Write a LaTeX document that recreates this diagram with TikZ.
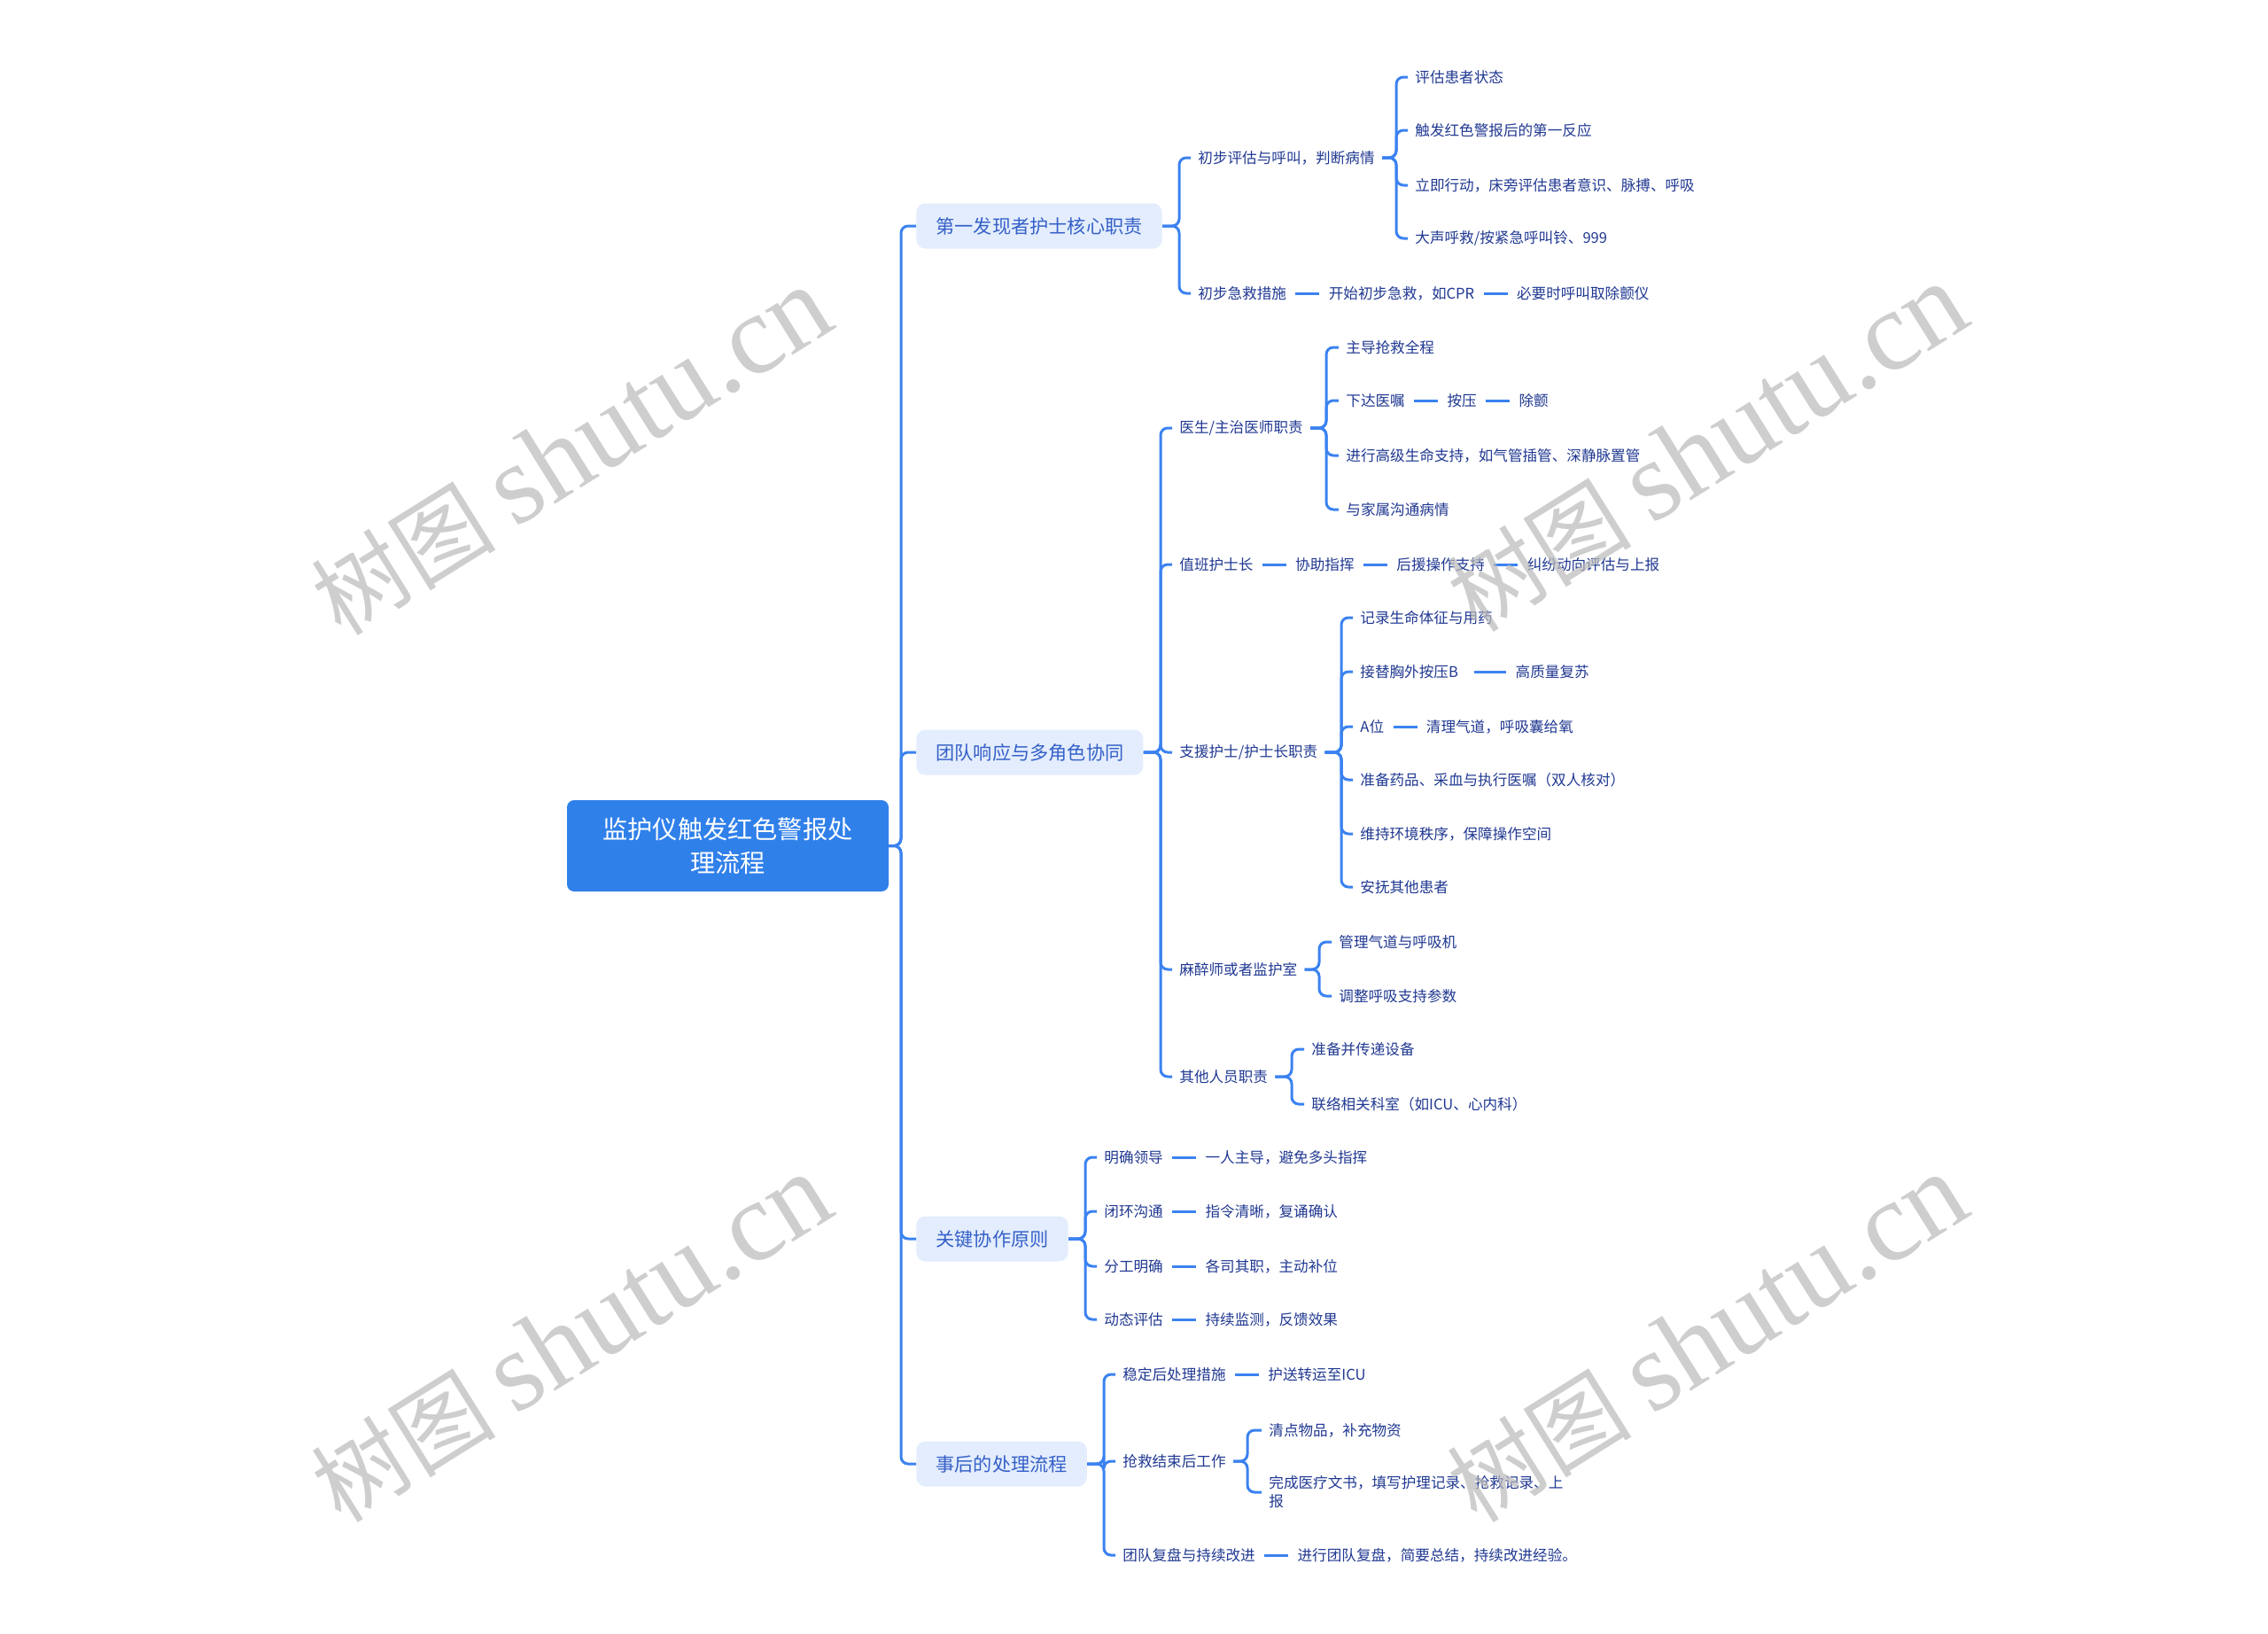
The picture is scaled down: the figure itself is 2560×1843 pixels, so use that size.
\documentclass[tikz,border=0pt]{standalone}
\usepackage{fontspec}
\setmainfont{Noto Sans CJK SC}
\newfontfamily\wmserif{Liberation Serif}
\usetikzlibrary{calc}
\definecolor{lineblue}{RGB}{59,130,240}
\definecolor{rootblue}{RGB}{48,128,234}
\definecolor{lvfill}{RGB}{227,237,253}
\definecolor{lvtext}{RGB}{53,96,200}
\definecolor{leaftext}{RGB}{32,56,145}
\definecolor{wmgray}{RGB}{185,185,185}
\begin{document}
\begin{tikzpicture}[x=0.5pt,y=-0.5pt,
  rootbox/.style={fill=rootblue, rounded corners=4pt, text=white, minimum width=181.5pt, minimum height=51.5pt, align=center, font=\fontsize{14.1}{18.8}\selectfont, inner sep=0pt},
  lvbox/.style={fill=lvfill, rounded corners=5pt, text=lvtext, minimum height=25.5pt, inner xsep=11pt, inner ysep=0pt, font=\fontsize{10.6}{12}\selectfont, anchor=west},
  leaf/.style={text=leaftext, inner xsep=4pt, inner ysep=2pt, font=\fontsize{8.3}{10.6}\selectfont, anchor=west},
  conn/.style={draw=lineblue, line width=1.5pt, rounded corners=4pt},
  dashc/.style={draw=lineblue, line width=1.5pt, shorten <=1pt, shorten >=1pt},
  wm/.style={text=wmgray, opacity=0.7, rotate=32, font=\fontsize{52}{52}\selectfont, inner sep=0pt}
]
\useasboundingbox (0,0) rectangle (2560,1843);

% root
\node[rootbox] (root) at (821.5,954.5) {监护仪触发红色警报处\\理流程};

% level 1
\node[lvbox] (L1a) at (1034,255) {第一发现者护士核心职责};
\node[lvbox] (L1b) at (1034,849) {团队响应与多角色协同};
\node[lvbox] (L1c) at (1034,1398) {关键协作原则};
\node[lvbox] (L1d) at (1034,1652) {事后的处理流程};

% bracket coordinates
\coordinate (sp) at (1017,0);
\coordinate (bA) at (1331,0);
\coordinate (bA1) at (1576,0);
\coordinate (bB) at (1310,0);
\coordinate (bB1) at (1497,0);
\coordinate (bB3) at (1514,0);
\coordinate (bB4) at (1489,0);
\coordinate (bB5) at (1458,0);
\coordinate (bC) at (1225,0);
\coordinate (bD) at (1246,0);
\coordinate (bD2) at (1408,0);

% ---- branch A
\node[leaf] (a1) at (1344,178) {初步评估与呼叫，判断病情};
\node[leaf] (a2) at (1344,331) {初步急救措施};
\node[leaf] (a2b) at ([xshift=15.5pt]a2.east) {开始初步急救，如CPR};
\node[leaf] (a2c) at ([xshift=15.5pt]a2b.east) {必要时呼叫取除颤仪};
\node[leaf] (a1a) at (1589,87) {评估患者状态};
\node[leaf] (a1b) at (1589,147) {触发红色警报后的第一反应};
\node[leaf] (a1c) at (1589,209) {立即行动，床旁评估患者意识、脉搏、呼吸};
\node[leaf] (a1d) at (1589,269) {大声呼救/按紧急呼叫铃、999};

% ---- branch B
\node[leaf] (b1) at (1323,483) {医生/主治医师职责};
\node[leaf] (b2) at (1323,637) {值班护士长};
\node[leaf] (b2b) at ([xshift=15.5pt]b2.east) {协助指挥};
\node[leaf] (b2c) at ([xshift=15.5pt]b2b.east) {后援操作支持};
\node[leaf] (b2d) at ([xshift=15.5pt]b2c.east) {纠纷动向评估与上报};
\node[leaf] (b3) at (1323,849) {支援护士/护士长职责};
\node[leaf] (b4) at (1323,1094) {麻醉师或者监护室};
\node[leaf] (b5) at (1323,1215) {其他人员职责};

\node[leaf] (b1a) at (1511,392) {主导抢救全程};
\node[leaf] (b1b) at (1511,452) {下达医嘱};
\node[leaf] (b1b2) at ([xshift=15.5pt]b1b.east) {按压};
\node[leaf] (b1b3) at ([xshift=15.5pt]b1b2.east) {除颤};
\node[leaf] (b1c) at (1511,514) {进行高级生命支持，如气管插管、深静脉置管};
\node[leaf] (b1d) at (1511,575) {与家属沟通病情};

\node[leaf] (b3a) at (1527,697) {记录生命体征与用药};
\node[leaf] (b3b) at (1527,758) {接替胸外按压B};
\node[leaf] (b3b2) at ([xshift=24pt]b3b.east) {高质量复苏};
\node[leaf] (b3c) at (1527,820) {A位};
\node[leaf] (b3c2) at ([xshift=15.5pt]b3c.east) {清理气道，呼吸囊给氧};
\node[leaf] (b3d) at (1527,880) {准备药品、采血与执行医嘱（双人核对）};
\node[leaf] (b3e) at (1527,941) {维持环境秩序，保障操作空间};
\node[leaf] (b3f) at (1527,1001) {安抚其他患者};

\node[leaf] (b4a) at (1503,1063) {管理气道与呼吸机};
\node[leaf] (b4b) at (1503,1124) {调整呼吸支持参数};

\node[leaf] (b5a) at (1472,1184) {准备并传递设备};
\node[leaf] (b5b) at (1472,1246) {联络相关科室（如ICU、心内科）};

% ---- branch C
\node[leaf] (c1) at (1238,1306) {明确领导};
\node[leaf] (c1b) at ([xshift=15.5pt]c1.east) {一人主导，避免多头指挥};
\node[leaf] (c2) at (1238,1367) {闭环沟通};
\node[leaf] (c2b) at ([xshift=15.5pt]c2.east) {指令清晰，复诵确认};
\node[leaf] (c3) at (1238,1429) {分工明确};
\node[leaf] (c3b) at ([xshift=15.5pt]c3.east) {各司其职，主动补位};
\node[leaf] (c4) at (1238,1489) {动态评估};
\node[leaf] (c4b) at ([xshift=15.5pt]c4.east) {持续监测，反馈效果};

% ---- branch D
\node[leaf] (d1) at (1259,1551) {稳定后处理措施};
\node[leaf] (d1b) at ([xshift=15.5pt]d1.east) {护送转运至ICU};
\node[leaf] (d2) at (1259,1649) {抢救结束后工作};
\node[leaf] (d3) at (1259,1755) {团队复盘与持续改进};
\node[leaf] (d3b) at ([xshift=15.5pt]d3.east) {进行团队复盘，简要总结，持续改进经验。};
\node[leaf] (d2a) at (1424,1614) {清点物品，补充物资};
\node[leaf, align=left] (d2b) at (1424,1684) {完成医疗文书，填写护理记录、抢救记录、上\\报};

% ---- connectors
\foreach \c in {L1a,L1b,L1c,L1d}
  \draw[conn] (root.east) -- (root.east -| sp) |- (\c.west);
\foreach \c in {a1,a2}
  \draw[conn] (L1a.east) -- (L1a.east -| bA) |- (\c.west);
\foreach \c in {a1a,a1b,a1c,a1d}
  \draw[conn] (a1.east) -- (a1.east -| bA1) |- (\c.west);
\foreach \c in {b1,b2,b3,b4,b5}
  \draw[conn] (L1b.east) -- (L1b.east -| bB) |- (\c.west);
\foreach \c in {b1a,b1b,b1c,b1d}
  \draw[conn] (b1.east) -- (b1.east -| bB1) |- (\c.west);
\foreach \c in {b3a,b3b,b3c,b3d,b3e,b3f}
  \draw[conn] (b3.east) -- (b3.east -| bB3) |- (\c.west);
\foreach \c in {b4a,b4b}
  \draw[conn] (b4.east) -- (b4.east -| bB4) |- (\c.west);
\foreach \c in {b5a,b5b}
  \draw[conn] (b5.east) -- (b5.east -| bB5) |- (\c.west);
\foreach \c in {c1,c2,c3,c4}
  \draw[conn] (L1c.east) -- (L1c.east -| bC) |- (\c.west);
\foreach \c in {d1,d2,d3}
  \draw[conn] (L1d.east) -- (L1d.east -| bD) |- (\c.west);
\foreach \c in {d2a,d2b}
  \draw[conn] (d2.east) -- (d2.east -| bD2) |- (\c.west);

% sequential dashes
\draw[dashc] (a2.east) -- (a2b.west);
\draw[dashc] (a2b.east) -- (a2c.west);
\draw[dashc] (b2.east) -- (b2b.west);
\draw[dashc] (b2b.east) -- (b2c.west);
\draw[dashc] (b2c.east) -- (b2d.west);
\draw[dashc] (b1b.east) -- (b1b2.west);
\draw[dashc] (b1b2.east) -- (b1b3.west);
\draw[dashc, shorten <=5pt] (b3b.east) -- (b3b2.west);
\draw[dashc] (b3c.east) -- (b3c2.west);
\draw[dashc] (c1.east) -- (c1b.west);
\draw[dashc] (c2.east) -- (c2b.west);
\draw[dashc] (c3.east) -- (c3b.west);
\draw[dashc] (c4.east) -- (c4b.west);
\draw[dashc] (d1.east) -- (d1b.west);
\draw[dashc] (d3.east) -- (d3b.west);

% watermarks
\node[wm] (w1) at (645,510) {树图 {\wmserif\fontsize{64}{64}\selectfont shutu.cn}};
\node[wm] (w2) at (1927,506) {树图 {\wmserif\fontsize{64}{64}\selectfont shutu.cn}};
\node[wm] (w3) at (645,1511) {树图 {\wmserif\fontsize{64}{64}\selectfont shutu.cn}};
\node[wm] (w4) at (1927,1511) {树图 {\wmserif\fontsize{64}{64}\selectfont shutu.cn}};
\end{tikzpicture}
\end{document}
